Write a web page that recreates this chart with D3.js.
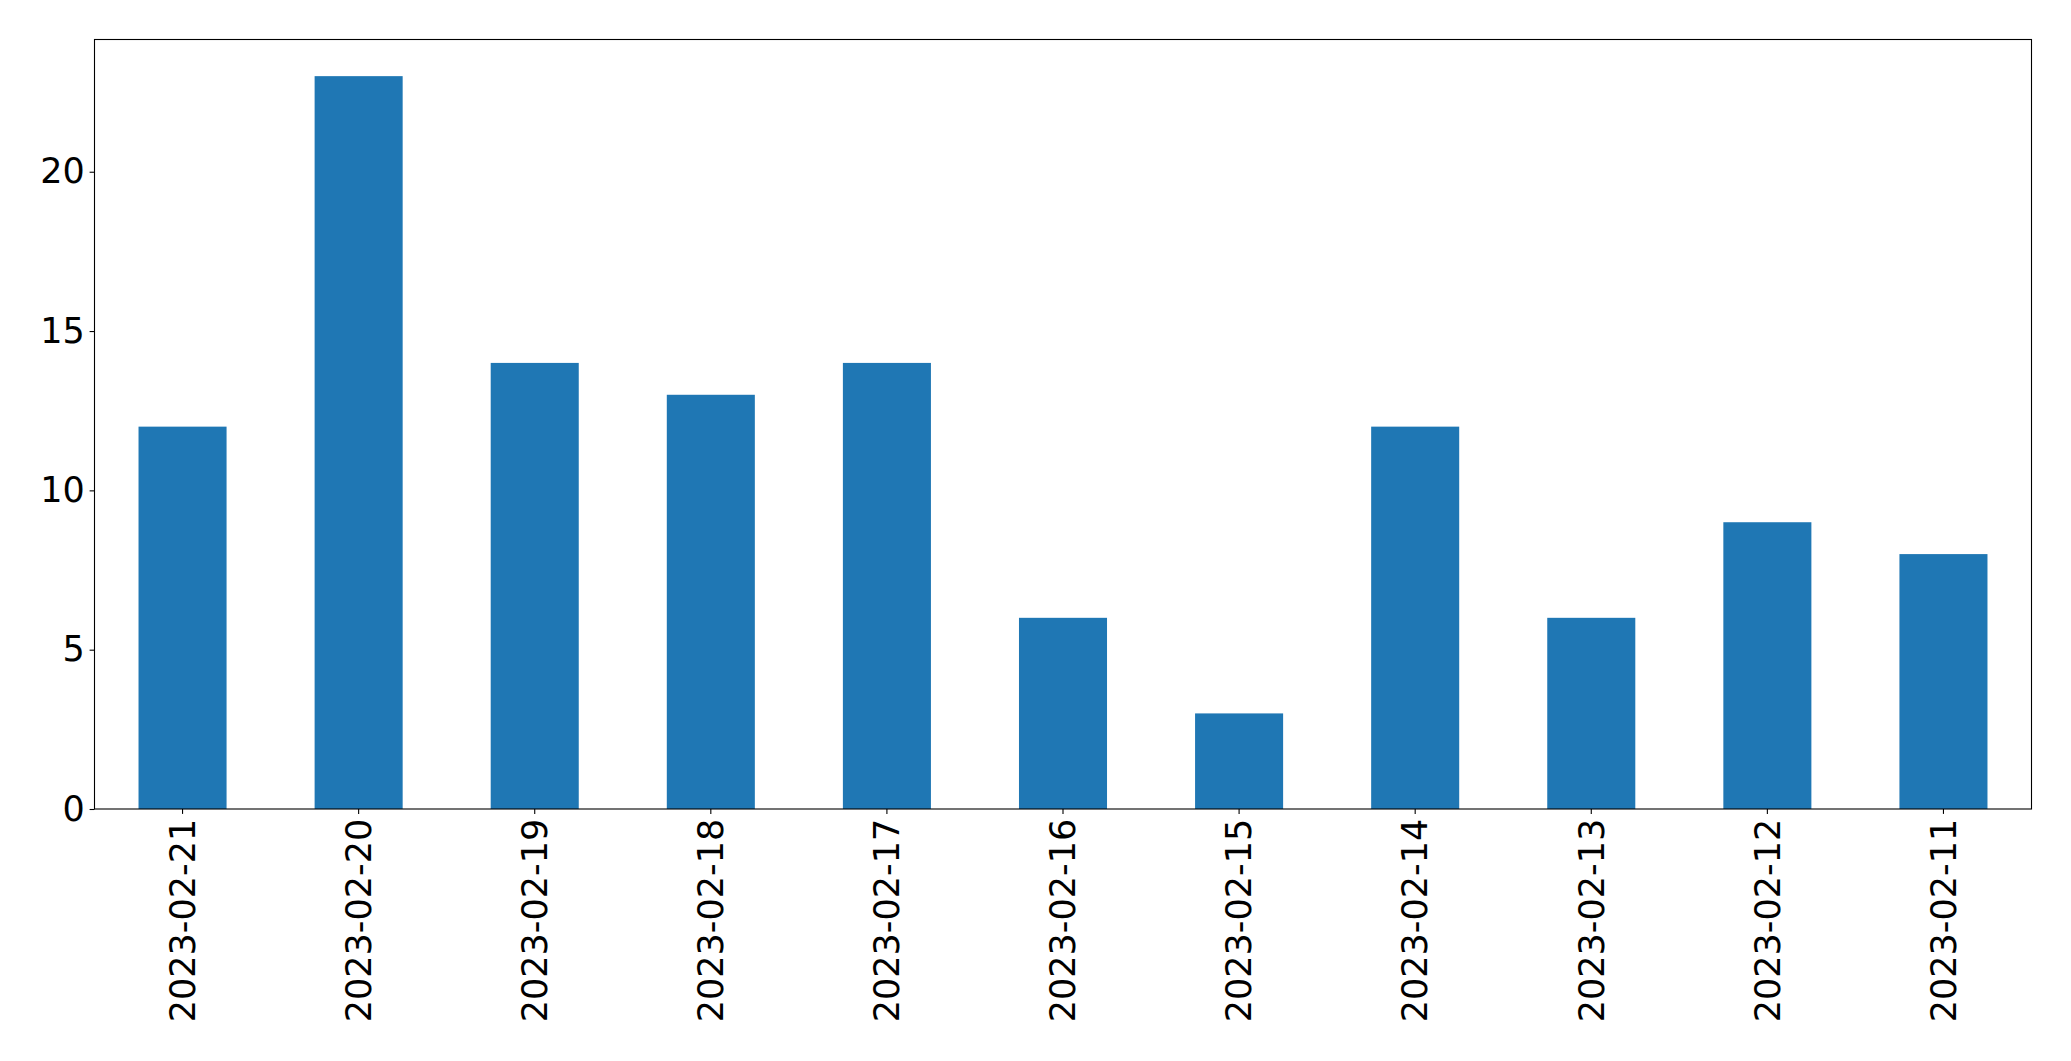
<!DOCTYPE html>
<html>
<head>
<meta charset="utf-8">
<script src="https://cdn.jsdelivr.net/npm/d3@7"></script>
<style>
html,body{margin:0;padding:0;background:#fff;}
svg{display:block;}
</style>
</head>
<body>
<script>
const categories = ["2023-02-21","2023-02-20","2023-02-19","2023-02-18","2023-02-17","2023-02-16","2023-02-15","2023-02-14","2023-02-13","2023-02-12","2023-02-11"];
const values = [12, 23, 14, 13, 14, 6, 3, 12, 6, 9, 8];
const yTicks = [0, 5, 10, 15, 20];

(function () {
const W = 2071, H = 1061;
const mLeft = 94.5, mRight = 2031.5, mTop = 39.5, mBottom = 809;
const font = "'DejaVu Sans', sans-serif";
const fs = 35;

const svg = d3.select("body").append("svg").attr("width", W).attr("height", H);

const x = d3.scaleBand().domain(categories).range([mLeft, mRight]).paddingInner(0.5).paddingOuter(0.25);
const y = d3.scaleLinear().domain([0, d3.max(values) * 1.05]).range([mBottom, mTop]);

svg.append("g").selectAll("rect").data(values).join("rect")
  .attr("x", (d, i) => x(categories[i]))
  .attr("y", d => y(d))
  .attr("width", x.bandwidth())
  .attr("height", d => y(0) - y(d))
  .attr("fill", "#1f77b4");

const yAxis = svg.append("g").attr("transform", `translate(${mLeft},0)`)
  .call(d3.axisLeft(y).tickValues(yTicks).tickFormat(d3.format("d")).tickSize(4.9).tickPadding(4.9));
yAxis.select(".domain").remove();
yAxis.selectAll("line").attr("stroke", "#000").attr("stroke-width", 1.1);
yAxis.selectAll("text").attr("font-family", font).attr("font-size", fs).attr("fill", "#000");

const xAxis = svg.append("g").attr("transform", `translate(0,${mBottom})`)
  .call(d3.axisBottom(x).tickSize(4.9).tickPadding(4.9));
xAxis.select(".domain").remove();
xAxis.selectAll("line").attr("stroke", "#000").attr("stroke-width", 1.1);
xAxis.selectAll("text")
  .attr("font-family", font).attr("font-size", fs).attr("fill", "#000")
  .attr("transform", "rotate(-90)")
  .attr("text-anchor", "end")
  .attr("x", -9.8)
  .attr("y", 0)
  .attr("dy", "0.35em");

svg.append("rect")
  .attr("x", mLeft).attr("y", mTop)
  .attr("width", mRight - mLeft).attr("height", mBottom - mTop)
  .attr("fill", "none").attr("stroke", "#000").attr("stroke-width", 1.1);
})();
</script>
</body>
</html>
